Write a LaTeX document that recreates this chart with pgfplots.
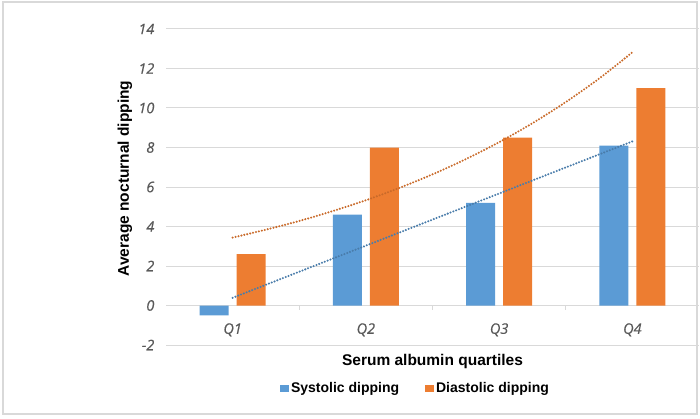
\documentclass[border=0pt]{standalone}
\usepackage{pgfplots}
\pgfplotsset{compat=1.18}
\usepackage{fontspec}
\setmainfont{Liberation Sans}
\newfontfamily\tickfont{Open Sans}[ItalicFeatures={FakeBold=0.5}]
\definecolor{sysc}{HTML}{5B9BD5}
\definecolor{diac}{HTML}{ED7D31}
\definecolor{gridc}{HTML}{D9D9D9}
\definecolor{tickc}{HTML}{595959}
\definecolor{framec}{HTML}{D9D9D9}
\begin{document}
\begin{tikzpicture}
\useasboundingbox (0pt,0pt) rectangle (700pt,418pt);
\begin{axis}[
  at={(166pt,73pt)}, anchor=south west,
  scale only axis, width=533pt, height=316pt,
  xmin=-0.5, xmax=3.5, ymin=-2, ymax=14,
  axis x line=middle, axis y line=left,
  hide obscured y ticks=false, hide obscured x ticks=false,
  x axis line style={draw=gridc, line width=1pt, -},
  y axis line style={draw=none},
  xtick={0,1,2,3}, xticklabels={Q1,Q2,Q3,Q4},
  minor xtick={0.5,1.5,2.5},
  major x tick style={draw=none},
  minor x tick style={draw=gridc, line width=1pt},
  minor tick length=4pt,
  xtick align=outside,
  ytick={-2,0,2,4,6,8,10,12,14},
  major y tick style={draw=none},
  ymajorgrids, grid style={draw=gridc, line width=1pt},
  /pgf/number format/assume math mode=true,
  ticklabel style={font=\tickfont\itshape\fontsize{14.5}{15}\selectfont, text=tickc},
  xticklabel style={anchor=center, yshift=-20pt},
  yticklabel style={anchor=east, xshift=-6pt},
  xlabel={Serum albumin quartiles},
  ylabel={Average nocturnal dipping},
  every axis x label/.style={at={(axis description cs:0.5,-0.0506)}, anchor=center, font=\bfseries\fontsize{15.5}{16}\selectfont},
  every axis y label/.style={at={(axis description cs:-0.0769,0.527)}, anchor=center, rotate=90, font=\bfseries\fontsize{15.5}{16}\selectfont},
  legend style={at={(axis description cs:0.468,-0.1377)}, anchor=center, draw=none, fill=none,
    legend columns=2, font=\bfseries\fontsize{14}{15}\selectfont,
    /tikz/every even column/.append style={column sep=24pt},
    inner sep=0pt},
  legend cell align=left,
]
\addplot[ybar, bar width=29pt, bar shift=-18.5pt, fill=sysc, draw=none,
  legend image code/.code={\fill[sysc] (0pt,-3.5pt) rectangle (9pt,4pt);}]
  coordinates {(0,-0.5) (1,4.6) (2,5.2) (3,8.1)};
\addlegendentry{Systolic dipping}
\addplot[ybar, bar width=29pt, bar shift=18.5pt, fill=diac, draw=none,
  legend image code/.code={\fill[diac] (0pt,-3.5pt) rectangle (9pt,4pt);}]
  coordinates {(0,2.6) (1,8.0) (2,8.5) (3,11.0)};
\addlegendentry{Diastolic dipping}
\addplot[sharp plot, sysc!80!black, line width=2.3pt, line cap=round, dash pattern=on 0pt off 3pt, forget plot]
  coordinates {(0,0.39) (3,8.31)};
\addplot[smooth, diac!85!black, line width=2.3pt, line cap=round, dash pattern=on 0pt off 3pt, forget plot]
  coordinates {(0,3.44) (0.25,3.84) (0.5,4.28) (0.75,4.78) (1,5.33) (1.25,5.95) (1.5,6.64)
   (1.75,7.41) (2,8.27) (2.25,9.23) (2.5,10.30) (2.75,11.49) (3,12.82)};
\end{axis}
\draw[framec, line width=1.2pt] (3pt,4pt) rectangle (697pt,416pt);
\end{tikzpicture}
\end{document}
